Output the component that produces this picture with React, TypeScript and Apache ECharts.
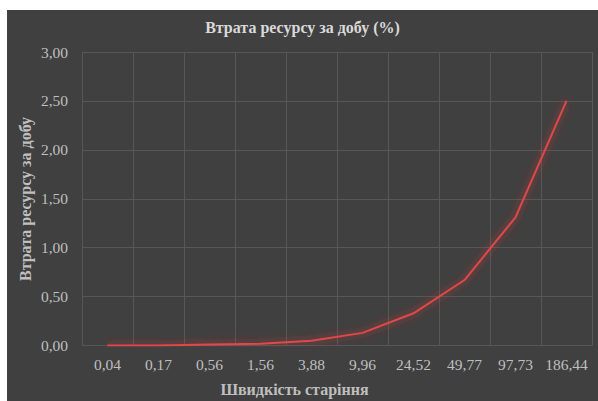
import React, { useEffect, useRef } from "react";
import * as echarts from "echarts";

const chartTitle = "Втрата ресурсу за добу (%)";
const xAxisTitle = "Швидкість старіння";
const yAxisTitle = "Втрата ресурсу за добу";
const categories = ["0,04", "0,17", "0,56", "1,56", "3,88", "9,96", "24,52", "49,77", "97,73", "186,44"];
const lossValues = [0.0, 0.0, 0.01, 0.02, 0.05, 0.13, 0.33, 0.67, 1.31, 2.5];

const FONT = "'Times New Roman', 'Liberation Serif', 'DejaVu Serif', serif";

export default function App() {
  const ref = useRef<HTMLDivElement>(null);
  useEffect(() => {
    if (!ref.current) return;
    const chart = echarts.init(ref.current, undefined, { renderer: "svg" });
    chart.setOption({
      animation: false,
      backgroundColor: "#404040",
      textStyle: { fontFamily: FONT },
      title: {
        text: chartTitle,
        left: "center",
        top: 9,
        padding: 0,
        textStyle: { color: "#d9d9d9", fontFamily: FONT, fontSize: 16, fontWeight: "bold" },
      },
      grid: { left: 75, right: 6, top: 42, bottom: 55.4, containLabel: false },
      xAxis: {
        type: "category",
        data: categories,
        boundaryGap: true,
        axisLine: { show: false },
        axisTick: { show: false },
        axisLabel: { interval: 0, color: "#bfbfbf", fontFamily: FONT, fontSize: 15.5, margin: 11 },
        splitLine: { show: true, interval: 0, lineStyle: { color: "#575757", width: 1 } },
      },
      yAxis: {
        type: "value",
        min: 0,
        max: 3,
        interval: 0.5,
        axisLine: { show: false },
        axisTick: { show: false },
        axisLabel: {
          color: "#bfbfbf",
          fontFamily: FONT,
          fontSize: 15.5,
          margin: 14,
          formatter: (v: number) => v.toFixed(2).replace(".", ","),
        },
        splitLine: { show: true, lineStyle: { color: "#575757", width: 1 } },
      },
      graphic: [
        {
          type: "text",
          x: 287.5,
          y: 379,
          style: {
            text: xAxisTitle,
            fill: "#bfbfbf",
            fontFamily: FONT,
            fontSize: 16,
            fontWeight: "bold",
            textAlign: "center",
            textVerticalAlign: "middle",
          },
        },
        {
          type: "text",
          x: 18,
          y: 189,
          rotation: Math.PI / 2,
          style: {
            text: yAxisTitle,
            fill: "#bfbfbf",
            fontFamily: FONT,
            fontSize: 16,
            fontWeight: "bold",
            textAlign: "center",
            textVerticalAlign: "middle",
          },
        },
      ],
      series: [
        {
          type: "line",
          data: lossValues,
          symbol: "none",
          lineStyle: {
            color: "#e04848",
            width: 2,
            shadowColor: "rgba(255,50,50,0.75)",
            shadowBlur: 8,
          },
        },
      ],
    });
    return () => chart.dispose();
  }, []);
  return (
    <div
      ref={ref}
      style={{ position: "absolute", left: 7, top: 10, width: 591, height: 391 }}
    />
  );
}
